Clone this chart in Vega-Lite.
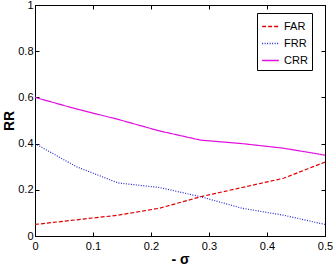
{
  "$schema": "https://vega.github.io/schema/vega-lite/v6.json",
  "autosize": "none",
  "width": 290,
  "height": 231,
  "padding": {"left": 35, "top": 5, "right": 8, "bottom": 31},
  "background": "white",
  "config": {
    "view": {"stroke": "black", "strokeWidth": 1},
    "font": "Liberation Sans",
    "axis": {
      "grid": false,
      "domainColor": "black",
      "tickColor": "black",
      "tickSize": -4,
      "labelColor": "black",
      "labelFontSize": 11,
      "labelFont": "Liberation Sans",
      "titleFont": "Liberation Sans",
      "titleColor": "black",
      "titleFontWeight": "bold"
    }
  },
  "data": {
    "values": [
      {"s": 0.0, "series": "FAR", "rr": 0.05},
      {"s": 0.0714, "series": "FAR", "rr": 0.07},
      {"s": 0.1429, "series": "FAR", "rr": 0.09},
      {"s": 0.2143, "series": "FAR", "rr": 0.12},
      {"s": 0.2857, "series": "FAR", "rr": 0.17},
      {"s": 0.3571, "series": "FAR", "rr": 0.21},
      {"s": 0.4286, "series": "FAR", "rr": 0.25},
      {"s": 0.5, "series": "FAR", "rr": 0.32},
      {"s": 0.0, "series": "FRR", "rr": 0.40},
      {"s": 0.0714, "series": "FRR", "rr": 0.30},
      {"s": 0.1429, "series": "FRR", "rr": 0.23},
      {"s": 0.2143, "series": "FRR", "rr": 0.21},
      {"s": 0.2857, "series": "FRR", "rr": 0.17},
      {"s": 0.3571, "series": "FRR", "rr": 0.12},
      {"s": 0.4286, "series": "FRR", "rr": 0.09},
      {"s": 0.5, "series": "FRR", "rr": 0.05},
      {"s": 0.0, "series": "CRR", "rr": 0.60},
      {"s": 0.0714, "series": "CRR", "rr": 0.55},
      {"s": 0.1429, "series": "CRR", "rr": 0.505},
      {"s": 0.2143, "series": "CRR", "rr": 0.455},
      {"s": 0.2857, "series": "CRR", "rr": 0.415},
      {"s": 0.3571, "series": "CRR", "rr": 0.40},
      {"s": 0.4286, "series": "CRR", "rr": 0.38},
      {"s": 0.5, "series": "CRR", "rr": 0.35}
    ]
  },
  "layer": [
    {
      "mark": {"type": "line", "strokeWidth": 1.2},
      "encoding": {
        "x": {"field": "s", "type": "quantitative", "scale": {"domain": [0, 0.5], "nice": false},
              "axis": {"values": [0, 0.1, 0.2, 0.3, 0.4, 0.5], "format": "~g", "title": "- σ", "titleFontSize": 14, "titlePadding": 1, "labelPadding": 8, "labelFlush": false}},
        "y": {"field": "rr", "type": "quantitative", "scale": {"domain": [0, 1], "nice": false},
              "axis": {"values": [0, 0.2, 0.4, 0.6, 0.8, 1], "format": "~g", "title": "RR", "titleFontSize": 14, "titlePadding": 1, "labelPadding": 6}},
        "color": {"field": "series", "type": "nominal",
                  "scale": {"domain": ["FAR", "FRR", "CRR"], "range": ["#e00000", "#2828c8", "#e010e0"]},
                  "legend": {"title": null, "orient": "none", "legendX": 222, "legendY": 8,
                             "strokeColor": "black", "fillColor": "white", "padding": 4,
                             "symbolType": "stroke", "symbolSize": 280, "symbolStrokeWidth": 1.5,
                             "labelFontSize": 11, "labelColor": "black", "rowPadding": 2}},
        "strokeDash": {"field": "series", "type": "nominal",
                       "scale": {"domain": ["FAR", "FRR", "CRR"], "range": [[4, 2], [1, 1.5], [1, 0]]},
                       "legend": null}
      }
    },
    {
      "mark": {"type": "line", "opacity": 0},
      "encoding": {
        "x": {"field": "s", "type": "quantitative",
              "axis": {"orient": "top", "values": [0, 0.1, 0.2, 0.3, 0.4, 0.5], "labels": false, "title": null}},
        "y": {"field": "rr", "type": "quantitative",
              "axis": {"orient": "right", "values": [0, 0.2, 0.4, 0.6, 0.8, 1], "labels": false, "title": null}},
        "detail": {"field": "series"}
      }
    }
  ],
  "resolve": {"axis": {"x": "independent", "y": "independent"}}
}
